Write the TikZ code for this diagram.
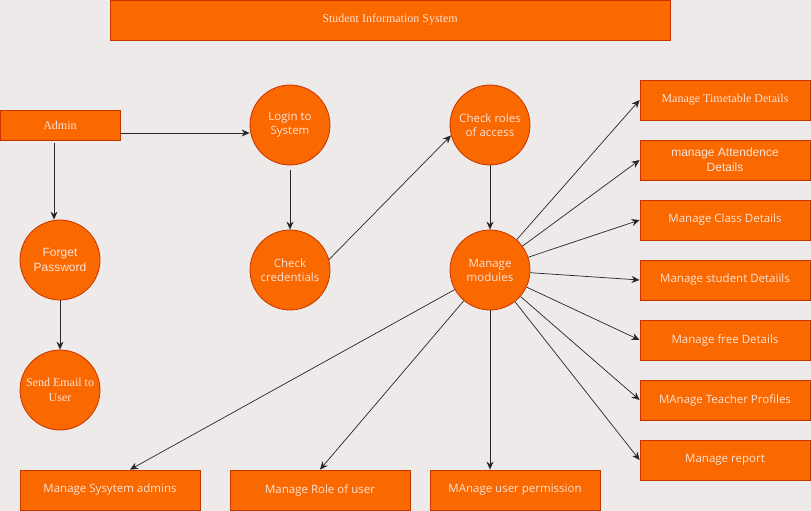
\documentclass[tikz,border=0pt]{standalone}
\usepackage{fontspec}
\setmainfont{Liberation Serif}
\newfontfamily\arialfont{Liberation Sans}
\newfontfamily\handfont{Open Sans}
\usetikzlibrary{arrows.meta}

\definecolor{bgcol}{HTML}{EEEAE9}
\definecolor{boxfill}{HTML}{FA6800}
\definecolor{boxline}{HTML}{C73500}
\definecolor{txtcol}{HTML}{FBE3D8}

\tikzset{
	proc/.style={draw=boxline,fill=boxfill,text=txtcol,line width=0.8pt,inner sep=0pt},
	rbox/.style={proc,rectangle,minimum width=170pt,minimum height=40pt,align=center},
	cproc/.style={proc,circle,minimum size=80pt,align=center},
	hand/.style={font=\handfont\fontsize{11.5}{14}\selectfont},
	arial/.style={font=\arialfont\fontsize{12}{15}\selectfont},
	serif/.style={font=\fontsize{12}{15}\selectfont},
	flow/.style={-{Stealth[length=8pt,width=7pt]},line width=0.7pt,black!85}
}

\begin{document}
\begin{tikzpicture}[x=1pt,y=-1pt]
	\fill[bgcol] (0,0) rectangle (811,511);
	\useasboundingbox (0,0) rectangle (811,511);
	% title
	\node[rbox,serif,minimum width=560pt] (title) at (390,20) {Student Information System};
	% left column
	\node[rbox,serif,minimum width=120pt,minimum height=30pt] (admin) at (60,125) {Admin};
	\node[cproc,arial] (forget) at (60,260) {Forget\\Password};
	\node[cproc,serif] (email) at (60,390) {Send Email to\\User};
	% middle
	\node[cproc,hand] (login) at (290,125) {Login to\\System};
	\node[cproc,hand] (cred) at (290,270) {Check\\credentials};
	\node[cproc,hand] (roles) at (490,125) {Check roles\\of access};
	\node[cproc,hand] (mods) at (490,270) {Manage\\modules};
	% right column
	\node[rbox,serif] (tt) at (725,100) {Manage Timetable Details};
	\node[rbox,arial] (att) at (725,160) {manage Attendence\\Details};
	\node[rbox,hand] (cls) at (725,220) {Manage Class Details};
	\node[rbox,hand] (stu) at (725,280) {Manage student Detaiils};
	\node[rbox,hand] (fee) at (725,340) {Manage free Details};
	\node[rbox,hand] (tea) at (725,400) {MAnage Teacher Profiles};
	\node[rbox,hand] (rep) at (725,460) {Manage report};
	% bottom row
	\node[rbox,hand,minimum width=180pt] (sysad) at (110,490) {Manage Sysytem admins};
	\node[rbox,hand,minimum width=180pt] (role) at (320,490) {Manage Role of user};
	\node[rbox,hand] (perm) at (515,490) {MAnage user permission};

	\draw[flow] ([yshift=-8pt]admin.east) -- ([yshift=-8pt]login.west);
	\draw[flow] ([xshift=-6pt,yshift=-3pt]admin.south) -- ([xshift=-6pt]forget.north);
	\draw[flow] (forget) -- (email);
	\draw[flow] ([yshift=-5pt]login.south) -- (cred);
	\draw[flow] (cred.15) -- (roles.195);
	\draw[flow] (roles) -- (mods);
	\foreach \t in {tt,att,cls,stu,fee,tea,rep}
		\draw[flow] (mods) -- (\t.west);
	\draw[flow] (mods) -- ([xshift=20pt]sysad.north);
	\draw[flow] (mods) -- (role.north);
	\draw[flow] (mods) -- (mods.south |- perm.north);
\end{tikzpicture}
\end{document}
